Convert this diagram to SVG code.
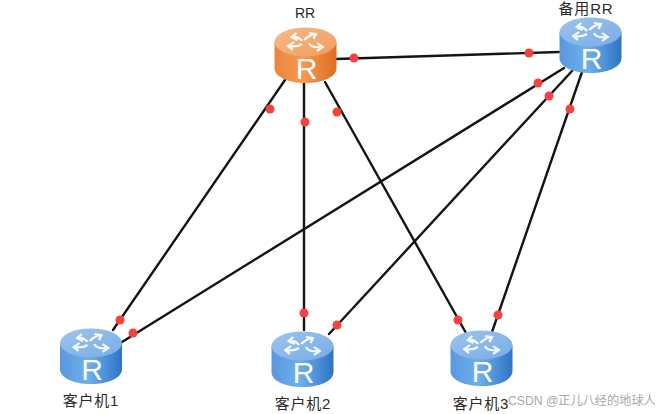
<svg xmlns="http://www.w3.org/2000/svg" width="662" height="414" viewBox="0 0 662 414">
<style>
.lnk{stroke:#141414;stroke-width:2.4;fill:none;stroke-linecap:round}
.dot{fill:#f4433c}
.lb{font-family:"Liberation Sans","Noto Sans CJK SC",sans-serif;font-size:15px;letter-spacing:.8px;fill:#2a2a2a;text-anchor:middle}
.wm{font-family:"Liberation Sans","Noto Sans CJK SC",sans-serif;font-size:12.2px;fill:#9a9a9a;opacity:.85}
.ar{fill:none;stroke:#fff;stroke-width:2.2;opacity:.9}
.rl{font-family:"Liberation Sans",sans-serif;font-size:30px;fill:#fff;text-anchor:middle}
</style>
<defs>
<linearGradient id="bb" x1="0" x2="1" y1="0" y2="0"><stop offset="0" stop-color="#5a97dc"/><stop offset=".45" stop-color="#6db0ec"/><stop offset="1" stop-color="#2f74c4"/></linearGradient>
<linearGradient id="bt" x1="0" x2="1" y1="0" y2="1"><stop offset="0" stop-color="#9cc4ee"/><stop offset="1" stop-color="#78ace6"/></linearGradient>
<linearGradient id="ob" x1="0" x2="1" y1="0" y2="0"><stop offset="0" stop-color="#e8863c"/><stop offset=".45" stop-color="#f59a50"/><stop offset="1" stop-color="#dc6f22"/></linearGradient>
<linearGradient id="ot" x1="0" x2="1" y1="0" y2="1"><stop offset="0" stop-color="#f6bb88"/><stop offset="1" stop-color="#f09c5c"/></linearGradient>
<g id="icon">
<path class="ar" d="M-3-2C-5-5-7-7-11-6M-8-10-12-6-7-3"/>
<path class="ar" d="M-1-3C1-6 5-8 8-9M3-10 9-9 7-4"/>
<path class="ar" d="M-3 1C-6 3-10 4-14 3M-10-1-15 3-11 7"/>
<path class="ar" d="M3 0C4 3 8 5 13 4M10 0 15 4 10 8"/>
</g>
<g id="blue">
<path d="M-31-14V12C-31 21-17 27 0 27S31 21 31 12V-14Z" fill="url(#bb)"/>
<ellipse cx="0" cy="-14" rx="31" ry="14.500" fill="url(#bt)"/>
<g transform="translate(0 -13) scale(1.15 1)"><use href="#icon"/></g>
<text class="rl" x="1" y="23">R</text>
</g>
<g id="orange">
<path d="M-31-14V12C-31 21-17 27 0 27S31 21 31 12V-14Z" fill="url(#ob)"/>
<ellipse cx="0" cy="-14" rx="31" ry="14.500" fill="url(#ot)"/>
<g transform="translate(0 -13) scale(1.15 1)"><use href="#icon"/></g>
<text class="rl" x="1" y="23">R</text>
</g>
</defs>
<rect width="662" height="414" fill="#fff"/>
<g id="connectors">
<path class="lnk" d="M285 80 113 330"/>
<path class="lnk" d="M304 82V330"/>
<path class="lnk" d="M325 82 466 333"/>
<path class="lnk" d="M336 59 559 52"/>
<path class="lnk" d="M564 68 122 342"/>
<path class="lnk" d="M572 71 329 334"/>
<path class="lnk" d="M582 72 492 332"/>
<circle class="dot" cx="270" cy="109" r="4.500"/><circle class="dot" cx="120" cy="320" r="4.500"/>
<circle class="dot" cx="305" cy="122" r="4.500"/><circle class="dot" cx="304" cy="313" r="4.500"/>
<circle class="dot" cx="337" cy="112" r="4.500"/><circle class="dot" cx="458" cy="320" r="4.500"/>
<circle class="dot" cx="354" cy="58" r="4.500"/><circle class="dot" cx="529" cy="53" r="4.500"/>
<circle class="dot" cx="538" cy="83" r="4.500"/><circle class="dot" cx="133" cy="333" r="4.500"/>
<circle class="dot" cx="549" cy="96" r="4.500"/><circle class="dot" cx="337" cy="325" r="4.500"/>
<circle class="dot" cx="570" cy="109" r="4.500"/><circle class="dot" cx="498" cy="315" r="4.500"/>
</g>
<g id="rr"><use href="#orange" x="305.500" y="56"/><text class="lb" x="305" y="18" style="font-size:14px;letter-spacing:0">RR</text></g>
<g id="backup-rr"><use href="#blue" x="590.500" y="46"/><text class="lb" x="586" y="14">备用RR</text></g>
<g id="client-1"><use href="#blue" x="91" y="357"/><text class="lb" x="91" y="406">客户机1</text></g>
<g id="client-2"><use href="#blue" x="302.500" y="360"/><text class="lb" x="303" y="409">客户机2</text></g>
<g id="client-3"><use href="#blue" x="481.500" y="359"/><text class="lb" x="481" y="409">客户机3</text></g>
<text class="wm" x="508" y="405">CSDN @正儿八经的地球人</text>
</svg>
